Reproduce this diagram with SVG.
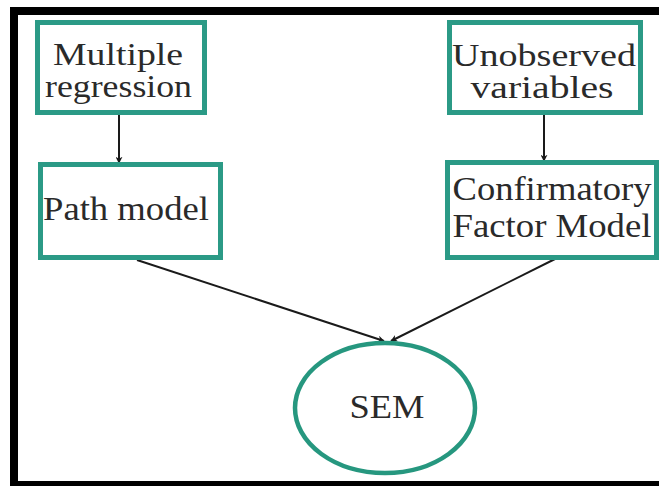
<svg xmlns="http://www.w3.org/2000/svg" width="659" height="486" viewBox="0 0 659 486">
<defs>
<style>
.box{fill:#ffffff;stroke:#2b9a86;stroke-width:5}
.oval{fill:#ffffff;stroke:#26977f;stroke-width:4.5}
.lbl{font-family:"Liberation Serif","Times New Roman",serif;font-size:34px;fill:#2a2a2a}
.tight{font-size:31px}
.edge{stroke:#1a1a1a;stroke-width:2;fill:none;marker-end:url(#ah)}
</style>
<marker id="ah" viewBox="0 0 10 10" refX="9" refY="5" markerWidth="7" markerHeight="7" markerUnits="userSpaceOnUse" orient="auto">
<path d="M0,0 L10,5 L0,10 L3,5 Z" fill="#1a1a1a"/>
</marker>
</defs>
<rect x="0" y="0" width="659" height="486" fill="#ffffff"/>
<g id="frame">
<rect x="10" y="7" width="649" height="8" fill="#000"/>
<rect x="10" y="7" width="8" height="479" fill="#000"/>
<rect x="10" y="481" width="649" height="5" fill="#000"/>
</g>
<g id="connectors">
<line class="edge" x1="119" y1="115" x2="119" y2="163"/>
<line class="edge" x1="544" y1="115" x2="544" y2="161"/>
<line class="edge" x1="137" y1="260" x2="384" y2="341"/>
<line class="edge" x1="555" y1="259" x2="391" y2="341"/>
</g>
<g id="multiple-regression">
<rect class="box" x="37.5" y="22.5" width="167" height="90"/>
<text class="lbl tight" x="118" y="65" text-anchor="middle" textLength="130" lengthAdjust="spacingAndGlyphs">Multiple</text>
<text class="lbl tight" x="118.5" y="97" text-anchor="middle" textLength="147" lengthAdjust="spacingAndGlyphs">regression</text>
</g>
<g id="unobserved-variables">
<rect class="box" x="449.5" y="22.5" width="191" height="90"/>
<text class="lbl tight" x="544" y="66" text-anchor="middle" textLength="184" lengthAdjust="spacingAndGlyphs">Unobserved</text>
<text class="lbl tight" x="542" y="98" text-anchor="middle" textLength="143" lengthAdjust="spacingAndGlyphs">variables</text>
</g>
<g id="path-model">
<rect class="box" x="40.5" y="164.5" width="180" height="93"/>
<text class="lbl" x="126" y="220" text-anchor="middle" textLength="166" lengthAdjust="spacingAndGlyphs">Path model</text>
</g>
<g id="confirmatory-factor-model">
<rect class="box" x="447.5" y="162.5" width="209" height="95"/>
<text class="lbl" x="552" y="200" text-anchor="middle" textLength="199" lengthAdjust="spacingAndGlyphs">Confirmatory</text>
<text class="lbl" x="552" y="237" text-anchor="middle" textLength="199" lengthAdjust="spacingAndGlyphs">Factor Model</text>
</g>
<g id="sem">
<ellipse class="oval" cx="385" cy="408" rx="90" ry="65"/>
<text class="lbl" x="387" y="418" text-anchor="middle" textLength="75" lengthAdjust="spacingAndGlyphs">SEM</text>
</g>
</svg>
